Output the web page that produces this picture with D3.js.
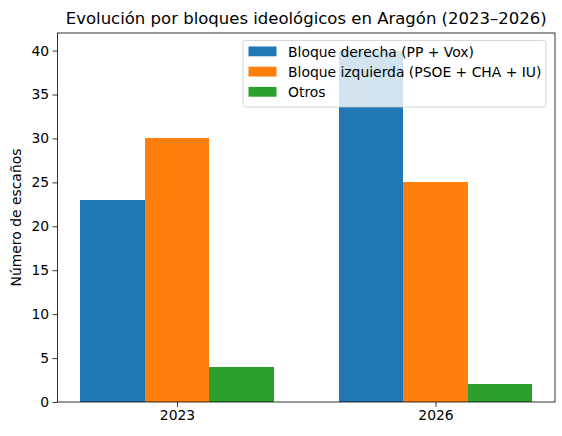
<!DOCTYPE html>
<html>
<head>
<meta charset="utf-8">
<script src="https://cdn.jsdelivr.net/npm/d3@7"></script>
<style>
  body { margin: 0; background: #fff; }
  svg { font-family: "DejaVu Sans", sans-serif; }
</style>
</head>
<body>
<svg id="chart" width="562" height="436"></svg>
<script>
const years = ['2023', '2026'];
const blocks = ['Bloque derecha (PP + Vox)', 'Bloque izquierda (PSOE + CHA + IU)', 'Otros'];
const derecha = [23, 40];
const izquierda = [30, 25];
const otros = [4, 2];
const yTicks = [0, 5, 10, 15, 20, 25, 30, 35, 40];
const colors = ['#1f77b4', '#ff7f0e', '#2ca02c'];

const series = [derecha, izquierda, otros];

const margin = {top: 33, right: 7, bottom: 34, left: 57.5};
const width = 562 - margin.left - margin.right;
const height = 436 - margin.top - margin.bottom;
const barW = 0.25;

const svg = d3.select('#chart');
const g = svg.append('g')
    .attr('transform', 'translate(' + margin.left + ',' + margin.top + ')');

// matplotlib style: bars at i + offset, 5% margin on both sides
const lo = -1.5 * barW, hi = years.length - 1 + 1.5 * barW;
const pad = (hi - lo) * 0.05;
const x = d3.scaleLinear().domain([lo - pad, hi + pad]).range([0, width]);
const y = d3.scaleLinear().domain([0, 42]).range([height, 0]);

// bars, snapped to whole pixels so neighbours touch without seams
const bx0 = (i, s) => Math.round(x(i + (s - 1) * barW - barW / 2) + margin.left) - margin.left;
series.forEach((vals, s) => {
    g.selectAll('.bar.s' + s)
        .data(vals)
        .enter().append('rect')
        .attr('class', 'bar s' + s)
        .attr('x', (d, i) => bx0(i, s))
        .attr('width', (d, i) => bx0(i, s + 1) - bx0(i, s))
        .attr('y', d => y(d))
        .attr('height', d => y(0) - y(d))
        .attr('fill', colors[s])
        .attr('shape-rendering', 'crispEdges');
});

// axes
const yAxis = d3.axisLeft(y).tickValues(yTicks).tickSize(4.9).tickPadding(3.5);
const xAxis = d3.axisBottom(x).tickValues(years.map((d, i) => i))
    .tickFormat(i => years[i]).tickSize(4.9).tickPadding(3.5);

const ya = g.append('g').call(yAxis);
const xa = g.append('g').attr('transform', 'translate(0,' + height + ')').call(xAxis);
[ya, xa].forEach(a => {
    a.select('.domain').remove();
    a.selectAll('line').attr('stroke', '#000').attr('stroke-width', 0.8);
    a.selectAll('text').attr('fill', '#000').style('font-size', '13.9px')
        .style('font-family', '"DejaVu Sans", sans-serif');
});

// frame
g.append('rect')
    .attr('width', width).attr('height', height)
    .attr('fill', 'none').attr('stroke', '#000').attr('stroke-width', 0.8);

// title + y label
svg.append('text')
    .attr('x', margin.left + width / 2).attr('y', 24)
    .attr('text-anchor', 'middle')
    .style('font-size', '16.5px')
    .text('Evolución por bloques ideológicos en Aragón (2023–2026)');

svg.append('text')
    .attr('transform', 'translate(21,' + (margin.top + height / 2) + ') rotate(-90)')
    .attr('text-anchor', 'middle')
    .style('font-size', '13.9px')
    .text('Número de escaños');

// legend (upper right)
const lg = svg.append('g').attr('transform', 'translate(243,40.5)');
lg.append('rect')
    .attr('width', 303).attr('height', 66.5).attr('rx', 2.5)
    .attr('fill', '#fff').attr('fill-opacity', 0.8)
    .attr('stroke', '#cccccc').attr('stroke-width', 0.8);

const items = lg.selectAll('.item')
    .data(blocks)
    .enter().append('g')
    .attr('transform', (d, i) => 'translate(5.5,' + (6 + i * 20.2) + ')');
items.append('rect')
    .attr('width', 28).attr('height', 9.8)
    .attr('fill', (d, i) => colors[i]);
items.append('text')
    .attr('x', 39.5).attr('y', 10)
    .style('font-size', '13.9px')
    .text(d => d);
</script>
</body>
</html>
